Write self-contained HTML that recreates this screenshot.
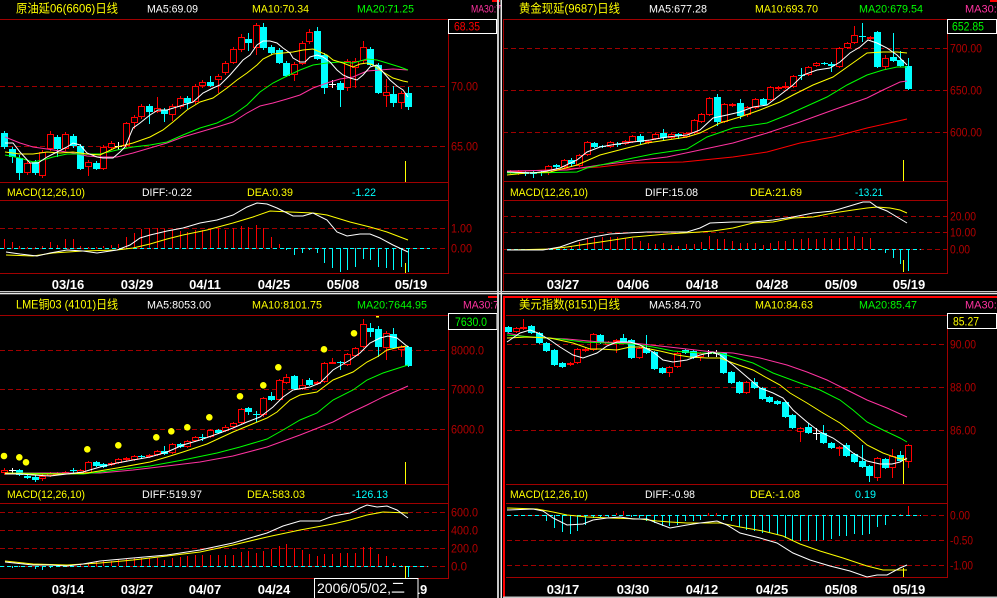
<!DOCTYPE html>
<html><head><meta charset="utf-8"><style>
html,body{margin:0;padding:0;background:#000;width:997px;height:598px;overflow:hidden}
svg{display:block}
text{font-family:"Liberation Sans","Noto Sans CJK SC",sans-serif}
.g{stroke:#a00000;stroke-width:1;stroke-dasharray:5 3;fill:none}
.b{stroke:#a00000;stroke-width:1;fill:none}
.rw{stroke:#ff0000;stroke-width:1;fill:none}
.rc{stroke:#ff0000;stroke-width:1;fill:#000}
.cw{stroke:#00ffff;stroke-width:1;fill:none}
.cc{fill:#00ffff}
.ww{stroke:#fff;stroke-width:1;fill:none}
.l5{stroke:#fff;stroke-width:1;fill:none}
.l10{stroke:#ffff00;stroke-width:1;fill:none}
.l20{stroke:#00ff00;stroke-width:1;fill:none}
.l30{stroke:#ff33a0;stroke-width:1;fill:none}
.l60{stroke:#ff0000;stroke-width:1;fill:none}
.zc{stroke:#00ffff;stroke-width:1;stroke-dasharray:4 3;fill:none}
.cur{stroke:#ffff00;stroke-width:1}
.ax{fill:#b00000;font-size:12px}
.dt{fill:#fff;font-size:13px;font-weight:bold}
</style></head><body>
<svg width="997" height="598" viewBox="0 0 997 598" xmlns="http://www.w3.org/2000/svg">
<rect width="997" height="598" fill="#000"/>

<!-- ================= TOP-LEFT ================= -->
<path class="g" d="M0 86.5H448M0 146.5H448M0 228.5H448M0 248.5H448"/>
<path class="b" d="M0 19.5H448M0 182.5H448M0 200.5H448M0 273.5H448M448.5 19V274"/>
<path class="rw" d="M27.5 161V175M42.5 150V178M50.5 131V151M65.5 132V151M88.5 160V176M103.5 145V170M111.5 141V150M126.5 122V148M134.5 115V129M141.5 104V119M157.5 97V113M172.5 104V121M180.5 96V109M195.5 84V104M202.5 80V88M218.5 74V93M225.5 61V75M233.5 47V64M241.5 34V52M256.5 23V55M294.5 62V81M302.5 41V65M309.5 29V44M347.5 59V91M355.5 58V88M363.5 41V63M386.5 79V107M401.5 91V109"/>
<g class="rc">
<rect x="24.5" y="163.5" width="6" height="9"/><rect x="39.5" y="152.5" width="6" height="23"/><rect x="47.5" y="134.5" width="6" height="14"/><rect x="62.5" y="134.5" width="6" height="14"/><rect x="85.5" y="162.5" width="6" height="4"/><rect x="100.5" y="147.5" width="6" height="21"/><rect x="108.5" y="143.5" width="6" height="4"/><rect x="123.5" y="123.5" width="6" height="22"/><rect x="131.5" y="117.5" width="6" height="5"/><rect x="138.5" y="106.5" width="6" height="10"/><rect x="154.5" y="108.5" width="6" height="3"/><rect x="169.5" y="106.5" width="6" height="8"/><rect x="177.5" y="98.5" width="6" height="8"/><rect x="192.5" y="86.5" width="6" height="15"/><rect x="199.5" y="82.5" width="6" height="3"/><rect x="215.5" y="76.5" width="6" height="3"/><rect x="222.5" y="63.5" width="6" height="9"/><rect x="230.5" y="49.5" width="6" height="13"/><rect x="238.5" y="37.5" width="6" height="12"/><rect x="253.5" y="25.5" width="6" height="22"/><rect x="291.5" y="64.5" width="6" height="10"/><rect x="299.5" y="43.5" width="6" height="20"/><rect x="306.5" y="32.5" width="6" height="9"/><rect x="344.5" y="61.5" width="6" height="26"/><rect x="352.5" y="61.5" width="6" height="6"/><rect x="360.5" y="47.5" width="6" height="13"/><rect x="383.5" y="92.5" width="6" height="3"/><rect x="398.5" y="93.5" width="6" height="9"/>
</g>
<path class="cw" d="M4.5 131V149M12.5 147V163M19.5 155V180M35.5 160V175M57.5 135V157M73.5 134V148M80.5 144V170M96.5 161V170M149.5 104V124M164.5 108V122M187.5 96V109M210.5 76V87M248.5 33V51M263.5 23V50M271.5 45V55M279.5 48V64M286.5 61V77M317.5 27V60M324.5 53V94M340.5 81V107M370.5 47V66M378.5 63V94M393.5 86V107M408.5 87V110"/>
<g class="cc">
<rect x="1" y="133" width="7" height="14"/><rect x="9" y="149" width="7" height="8"/><rect x="16" y="158" width="7" height="15"/><rect x="32" y="162" width="7" height="11"/><rect x="54" y="137" width="7" height="12"/><rect x="70" y="136" width="7" height="10"/><rect x="77" y="146" width="7" height="23"/><rect x="93" y="163" width="7" height="6"/><rect x="146" y="106" width="7" height="6"/><rect x="161" y="110" width="7" height="4"/><rect x="184" y="98" width="7" height="5"/><rect x="207" y="82" width="7" height="4"/><rect x="245" y="39" width="7" height="4"/><rect x="260" y="27" width="7" height="21"/><rect x="268" y="47" width="7" height="6"/><rect x="276" y="50" width="7" height="13"/><rect x="283" y="63" width="7" height="13"/><rect x="314" y="31" width="7" height="28"/><rect x="321" y="55" width="7" height="33"/><rect x="337" y="83" width="7" height="7"/><rect x="367" y="49" width="7" height="16"/><rect x="375" y="65" width="7" height="28"/><rect x="390" y="94" width="7" height="9"/><rect x="405" y="93" width="7" height="14"/>
</g>
<path class="ww" d="M115 146.5H122M118.5 142V150M329 84.5H336M332.5 80V88"/>
<polyline class="l30" points="5,137 20,143 33,147 47,149 60,151 73,153 87,156 100,157 117,157 133,153 150,148 167,143 183,137 200,132 217,127 233,122 247,113 260,106 273,103 287,99 300,95 313,88 327,83 340,79 353,77 367,71 380,70 393,69 408,70"/>
<polyline class="l20" points="5,155 20,158 33,162 43,160 53,157 67,154 83,154 100,154 117,150 133,147 150,145 167,142 183,135 200,128 217,123 233,115 247,105 260,92 273,83 287,76 300,70 313,65 327,63 340,62 353,63 367,59 377,60 387,63 400,67 408,70"/>
<polyline class="l10" points="5,152 20,154 33,154 47,152 60,153 73,152 87,154 100,155 117,147 133,143 150,137 163,130 173,122 187,110 200,102 213,98 227,88 237,80 247,73 257,65 263,59 273,54 283,53 293,52 303,50 313,49 320,52 327,55 333,60 343,63 353,67 360,64 367,63 373,65 383,72 393,78 403,81 408,82"/>
<polyline class="l5" points="5,143 13,143 20,152 30,163 38,163 47,157 57,152 67,147 73,143 80,145 87,153 97,157 103,158 113,158 120,152 125,147 133,128 140,123 150,115 158,110 167,110 180,106 193,102 203,93 213,88 220,85 230,75 237,67 243,60 250,55 257,45 263,41 270,41 277,43 283,48 290,53 293,58 300,62 305,62 310,57 317,55 323,57 330,62 337,70 343,75 350,78 357,80 363,75 370,67 377,65 383,72 390,80 397,86 403,90 408,97"/>
<path class="cur" d="M405.5 161V182M405.5 263V273"/>
<!-- MACD TL -->
<path class="rw" d="M4.5 248V239M12.5 248V242M19.5 248V246M27.5 248V247M35.5 248V247M42.5 248V246M50.5 248V242M57.5 248V245M65.5 248V239M73.5 248V239M80.5 248V246M88.5 248V247M96.5 248V247M103.5 248V246M111.5 248V245M118.5 248V244M126.5 248V237M134.5 248V233M141.5 248V229M149.5 248V228M157.5 248V228M164.5 248V229M172.5 248V230M180.5 248V231M187.5 248V232M195.5 248V230M202.5 248V230M210.5 248V229M218.5 248V228M225.5 248V230M233.5 248V228M241.5 248V226M248.5 248V227M256.5 248V225M263.5 248V228M271.5 248V237M279.5 248V244"/>
<path class="cw" d="M286.5 248V250M294.5 248V255M302.5 248V253M309.5 248V250M317.5 248V253M324.5 248V263M332.5 248V268M340.5 248V272M347.5 248V270M355.5 248V267M363.5 248V259M370.5 248V260M378.5 248V267M386.5 248V268M393.5 248V270M401.5 248V267M408.5 248V272"/>
<path class="zc" d="M0 248.5H430"/>
<polyline class="l10" points="6,255 33,256 53,253 83,251 117,250 133,248 150,244 167,239 183,235 207,230 233,223 253,217 270,211 290,212 313,213 327,215 350,222 370,227 387,232 408,240"/>
<polyline class="l5" points="6,252 20,254 37,256 50,253 67,250 83,251 97,253 117,250 130,245 140,238 150,235 167,231 183,228 200,223 217,220 233,215 247,207 257,203 267,204 277,208 293,216 303,216 313,213 327,220 337,232 347,236 360,234 370,234 380,238 393,245 408,252"/>
<text class="ax" x="451" y="90.5" textLength="27" lengthAdjust="spacingAndGlyphs">70.00</text>
<text class="ax" x="451" y="150.5" textLength="27" lengthAdjust="spacingAndGlyphs">65.00</text>
<text class="ax" x="451" y="232.5" textLength="21" lengthAdjust="spacingAndGlyphs">1.00</text>
<text class="ax" x="451" y="252.5" textLength="21" lengthAdjust="spacingAndGlyphs">0.00</text>
<rect x="448.5" y="19.5" width="48" height="14" fill="#000" stroke="#fff" stroke-width="1"/>
<text x="454" y="30.5" font-size="12" fill="#ff0000" textLength="26" lengthAdjust="spacingAndGlyphs">68.35</text>
<text x="16" y="12.5" font-size="12" fill="#ffff00" textLength="102" lengthAdjust="spacingAndGlyphs">原油延06(6606)日线</text>
<text x="147" y="12.5" font-size="11" fill="#fff" textLength="51" lengthAdjust="spacingAndGlyphs">MA5:69.09</text>
<text x="252" y="12.5" font-size="11" fill="#ffff00" textLength="57" lengthAdjust="spacingAndGlyphs">MA10:70.34</text>
<text x="357" y="12.5" font-size="11" fill="#00ff00" textLength="57" lengthAdjust="spacingAndGlyphs">MA20:71.25</text>
<text x="471" y="12.5" font-size="11" fill="#ff33a0" textLength="30" lengthAdjust="spacingAndGlyphs">MA30:7</text>
<text x="7" y="196" font-size="11" fill="#ffff00" textLength="78" lengthAdjust="spacingAndGlyphs">MACD(12,26,10)</text>
<text x="142" y="196" font-size="11" fill="#fff" textLength="50" lengthAdjust="spacingAndGlyphs">DIFF:-0.22</text>
<text x="247" y="196" font-size="11" fill="#ffff00" textLength="46" lengthAdjust="spacingAndGlyphs">DEA:0.39</text>
<text x="352" y="196" font-size="11" fill="#00ffff" textLength="24" lengthAdjust="spacingAndGlyphs">-1.22</text>
<g class="dt" text-anchor="middle">
<text x="68" y="289">03/16</text><text x="137" y="289">03/29</text><text x="205" y="289">04/11</text><text x="274" y="289">04/25</text><text x="343" y="289">05/08</text><text x="411" y="289">05/19</text>
</g>
<rect x="492" y="0" width="8" height="2" fill="#ff0000"/>

<!-- ================= TOP-RIGHT ================= -->
<path class="g" d="M503 48.5H947M503 90.5H947M503 132.5H947M503 216.5H947M503 232.5H947M503 249.5H947"/>
<path class="b" d="M503 19.5H947M503 181.5H947M503 200.5H947M503 273.5H947M947.5 19V274M503.5 19V291"/>
<path class="rw" d="M510.5 170V174M518.5 170V175M548.5 165V175M564.5 159V169M579.5 154V167M587.5 141V156M610.5 141V148M625.5 140V145M632.5 135V143M648.5 140V144M655.5 133V140M671.5 133V139M686.5 132V138M694.5 119V134M701.5 113V123M709.5 97V116M724.5 103V123M732.5 103V107M747.5 106V117M755.5 98V109M770.5 86V101M778.5 86V90M785.5 82V89M793.5 75V88M808.5 66V76M816.5 62V67M839.5 47V68M847.5 42V49M854.5 26V44M870.5 36V40M885.5 55V70"/>
<g class="rc">
<rect x="507.5" y="171.5" width="6" height="1"/><rect x="515.5" y="171.5" width="6" height="2"/><rect x="545.5" y="166.5" width="6" height="6"/><rect x="561.5" y="160.5" width="6" height="6"/><rect x="576.5" y="155.5" width="6" height="10"/><rect x="584.5" y="142.5" width="6" height="12"/><rect x="607.5" y="142.5" width="6" height="4"/><rect x="622.5" y="141.5" width="6" height="2"/><rect x="629.5" y="136.5" width="6" height="5"/><rect x="645.5" y="141.5" width="6" height="1"/><rect x="652.5" y="134.5" width="6" height="4"/><rect x="668.5" y="134.5" width="6" height="3"/><rect x="683.5" y="133.5" width="6" height="3"/><rect x="691.5" y="120.5" width="6" height="12"/><rect x="698.5" y="114.5" width="6" height="7"/><rect x="706.5" y="98.5" width="6" height="16"/><rect x="721.5" y="104.5" width="6" height="17"/><rect x="729.5" y="104.5" width="6" height="1"/><rect x="744.5" y="107.5" width="6" height="7"/><rect x="752.5" y="99.5" width="6" height="8"/><rect x="767.5" y="87.5" width="6" height="12"/><rect x="775.5" y="87.5" width="6" height="1"/><rect x="782.5" y="86.5" width="6" height="1"/><rect x="790.5" y="76.5" width="6" height="10"/><rect x="805.5" y="67.5" width="6" height="7"/><rect x="813.5" y="63.5" width="6" height="2"/><rect x="836.5" y="48.5" width="6" height="18"/><rect x="844.5" y="43.5" width="6" height="4"/><rect x="851.5" y="35.5" width="6" height="7"/><rect x="867.5" y="37.5" width="6" height="1"/><rect x="882.5" y="58.5" width="6" height="8"/>
</g>
<path class="cw" d="M525.5 171V176M533.5 171V178M541.5 170V176M556.5 164V169M571.5 158V166M594.5 142V148M602.5 145V148M640.5 134V145M663.5 129V140M678.5 133V139M717.5 94V126M740.5 99V119M763.5 98V106M824.5 62V65M831.5 62V72M877.5 31V68M893.5 33V62M900.5 51V67M908.5 58V90M614 144.5H621M617.5 142V147M798 75.5H805M801.5 68V80M859 36.5H866M862.5 23V42"/>
<g class="cc">
<rect x="522" y="172" width="7" height="2"/><rect x="530" y="172" width="7" height="2"/><rect x="538" y="172" width="7" height="1"/><rect x="553" y="165" width="7" height="2"/><rect x="568" y="160" width="7" height="4"/><rect x="591" y="143" width="7" height="4"/><rect x="599" y="146" width="7" height="1"/><rect x="637" y="136" width="7" height="6"/><rect x="660" y="133" width="7" height="5"/><rect x="675" y="134" width="7" height="2"/><rect x="714" y="97" width="7" height="25"/><rect x="737" y="103" width="7" height="13"/><rect x="760" y="99" width="7" height="6"/><rect x="821" y="63" width="7" height="1"/><rect x="828" y="64" width="7" height="2"/><rect x="874" y="32" width="7" height="35"/><rect x="890" y="57" width="7" height="4"/><rect x="897" y="60" width="7" height="6"/><rect x="905" y="66" width="7" height="23"/>
</g>
<polyline class="l60" points="507,172 600,167 633,163 683,162 733,157 767,152 800,143 833,137 867,128 907,119"/>
<polyline class="l30" points="507,171 567,170 600,165 633,161 667,157 700,150 733,143 767,133 800,122 833,110 867,98 883,90 900,82 907,81"/>
<polyline class="l20" points="507,173 533,173 577,172 587,168 610,163 633,158 653,154 687,149 707,137 733,128 767,123 787,115 807,106 827,97 847,85 867,75 883,70 897,67 907,67"/>
<polyline class="l10" points="507,175 527,173 550,172 577,165 600,155 627,148 647,143 667,140 687,137 700,133 720,123 740,117 760,110 780,102 793,95 813,85 833,77 850,65 867,53 883,52 897,52 907,53"/>
<polyline class="l5" points="507,172 533,173 547,171 560,168 577,160 587,152 600,147 617,144 633,142 650,140 667,137 687,135 700,130 713,118 727,115 740,112 753,107 767,105 780,95 793,85 803,75 817,70 830,68 840,62 850,53 860,47 868,40 877,43 887,48 897,55 907,65"/>
<path class="cur" d="M903.5 160V181M903.5 260V272"/>
<path class="rw" d="M548.5 249V248M564.5 249V248M571.5 249V246M579.5 249V242M587.5 249V238M594.5 249V238M602.5 249V237M610.5 249V237M617.5 249V237M625.5 249V238M632.5 249V238M640.5 249V241M648.5 249V243M655.5 249V244M663.5 249V243M671.5 249V245M678.5 249V246M686.5 249V244M694.5 249V244M701.5 249V242M709.5 249V236M717.5 249V239M724.5 249V239M732.5 249V241M740.5 249V243M747.5 249V243M755.5 249V243M763.5 249V245M770.5 249V243M778.5 249V241M785.5 249V241M793.5 249V239M801.5 249V239M808.5 249V238M816.5 249V239M824.5 249V238M831.5 249V239M839.5 249V238M847.5 249V237M854.5 249V236M862.5 249V237M870.5 249V238"/>
<path class="cw" d="M885.5 249V253M893.5 249V258M900.5 249V264M908.5 249V271"/>
<path class="zc" d="M507 249.5H921"/>
<polyline class="l10" points="507,250 550,249 567,247 587,244 607,241 633,237 667,234 700,232 713,231 733,228 753,223 773,222 793,218 813,217 833,213 853,210 867,208 877,207 890,208 900,210 907,213"/>
<polyline class="l5" points="507,250 543,250 560,247 577,241 593,237 610,234 627,233 647,232 667,232 687,232 700,228 710,223 733,222 753,222 773,220 793,217 813,213 833,211 853,205 863,202 870,202 877,207 887,211 897,217 907,223"/>
<text class="ax" x="950" y="52.5" textLength="32" lengthAdjust="spacingAndGlyphs">700.00</text>
<text class="ax" x="950" y="94.5" textLength="32" lengthAdjust="spacingAndGlyphs">650.00</text>
<text class="ax" x="950" y="136.5" textLength="32" lengthAdjust="spacingAndGlyphs">600.00</text>
<text class="ax" x="950" y="220.5" textLength="26" lengthAdjust="spacingAndGlyphs">20.00</text>
<text class="ax" x="950" y="236.5" textLength="26" lengthAdjust="spacingAndGlyphs">10.00</text>
<text class="ax" x="950" y="253.5" textLength="20" lengthAdjust="spacingAndGlyphs">0.00</text>
<rect x="947.5" y="19.5" width="49" height="14" fill="#000" stroke="#fff" stroke-width="1"/>
<text x="952" y="30.5" font-size="12" fill="#00ff00" textLength="32" lengthAdjust="spacingAndGlyphs">652.85</text>
<text x="519" y="12.5" font-size="12" fill="#ffff00" textLength="101" lengthAdjust="spacingAndGlyphs">黄金现延(9687)日线</text>
<text x="649" y="12.5" font-size="11" fill="#fff" textLength="58" lengthAdjust="spacingAndGlyphs">MA5:677.28</text>
<text x="755" y="12.5" font-size="11" fill="#ffff00" textLength="63" lengthAdjust="spacingAndGlyphs">MA10:693.70</text>
<text x="859" y="12.5" font-size="11" fill="#00ff00" textLength="64" lengthAdjust="spacingAndGlyphs">MA20:679.54</text>
<text x="965" y="12.5" font-size="11" fill="#ff33a0" textLength="38" lengthAdjust="spacingAndGlyphs">MA30:6</text>
<text x="510" y="196" font-size="11" fill="#ffff00" textLength="78" lengthAdjust="spacingAndGlyphs">MACD(12,26,10)</text>
<text x="645" y="196" font-size="11" fill="#fff" textLength="53" lengthAdjust="spacingAndGlyphs">DIFF:15.08</text>
<text x="750" y="196" font-size="11" fill="#ffff00" textLength="52" lengthAdjust="spacingAndGlyphs">DEA:21.69</text>
<text x="855" y="196" font-size="11" fill="#00ffff" textLength="28" lengthAdjust="spacingAndGlyphs">-13.21</text>
<g class="dt" text-anchor="middle">
<text x="563" y="289">03/27</text><text x="633" y="289">04/06</text><text x="702" y="289">04/18</text><text x="772" y="289">04/28</text><text x="841" y="289">05/09</text><text x="909" y="289">05/19</text>
</g>
<rect x="990" y="0" width="7" height="2" fill="#ff0000"/>

<!-- ================= BOTTOM-LEFT ================= -->
<path class="g" d="M0 350.5H448M0 389.5H448M0 429.5H448M0 512.5H448M0 530.5H448M0 548.5H448M0 566.5H448"/>
<path class="b" d="M0 315.5H448M0 484.5H448M0 503.5H448M0 578.5H448M448.5 315V579"/>
<path class="rw" d="M4.5 468V475M42.5 474V481M50.5 472V477M57.5 472V475M65.5 471V474M80.5 469V474M88.5 461V474M111.5 462V466M118.5 458V464M126.5 457V461M134.5 455V461M149.5 454V458M157.5 450V456M172.5 443V454M187.5 440V448M195.5 436V442M210.5 429V438M225.5 425V432M233.5 422V428M241.5 408V424M263.5 397V417M279.5 379V401M286.5 374V384M302.5 379V390M317.5 381V385M324.5 362V383M332.5 358V364M347.5 353V366M355.5 347V357M363.5 319V348M386.5 331V360M401.5 345V357"/>
<g class="rc">
<rect x="1.5" y="470.5" width="6" height="2"/><rect x="39.5" y="476.5" width="6" height="2"/><rect x="47.5" y="473.5" width="6" height="2"/><rect x="54.5" y="473.5" width="6" height="1"/><rect x="62.5" y="472.5" width="6" height="1"/><rect x="77.5" y="470.5" width="6" height="2"/><rect x="85.5" y="462.5" width="6" height="10"/><rect x="108.5" y="463.5" width="6" height="1"/><rect x="115.5" y="459.5" width="6" height="3"/><rect x="123.5" y="458.5" width="6" height="1"/><rect x="131.5" y="456.5" width="6" height="3"/><rect x="146.5" y="455.5" width="6" height="1"/><rect x="154.5" y="451.5" width="6" height="3"/><rect x="169.5" y="444.5" width="6" height="8"/><rect x="184.5" y="441.5" width="6" height="5"/><rect x="192.5" y="437.5" width="6" height="3"/><rect x="207.5" y="430.5" width="6" height="6"/><rect x="222.5" y="427.5" width="6" height="3"/><rect x="230.5" y="423.5" width="6" height="3"/><rect x="238.5" y="409.5" width="6" height="13"/><rect x="260.5" y="398.5" width="6" height="16"/><rect x="276.5" y="380.5" width="6" height="19"/><rect x="283.5" y="377.5" width="6" height="5"/><rect x="299.5" y="385.5" width="6" height="3"/><rect x="314.5" y="382.5" width="6" height="1"/><rect x="321.5" y="363.5" width="6" height="18"/><rect x="329.5" y="362.5" width="6" height="1"/><rect x="344.5" y="354.5" width="6" height="10"/><rect x="352.5" y="348.5" width="6" height="7"/><rect x="360.5" y="324.5" width="6" height="22"/><rect x="383.5" y="333.5" width="6" height="14"/><rect x="398.5" y="347.5" width="6" height="2"/>
</g>
<path class="cw" d="M19.5 469V476M27.5 475V479M35.5 475V482M96.5 461V467M103.5 463V468M141.5 455V458M164.5 446V455M180.5 443V448M218.5 429V434M248.5 407V415M271.5 392V401M294.5 375V390M309.5 378V386M340.5 361V370M370.5 323V337M378.5 326V357M393.5 328V349M408.5 346V367M70 470.5H77M73.5 468V473M199 437.5H206M202.5 434V441M253 414.5H260M256.5 411V422"/>
<path class="ww" d="M9 470.5H16M12.5 468V473"/>
<g class="cc">
<rect x="16" y="470" width="7" height="5"/><rect x="24" y="476" width="7" height="2"/><rect x="32" y="477" width="7" height="3"/><rect x="93" y="462" width="7" height="4"/><rect x="100" y="464" width="7" height="3"/><rect x="138" y="456" width="7" height="1"/><rect x="161" y="451" width="7" height="3"/><rect x="177" y="444" width="7" height="3"/><rect x="215" y="430" width="7" height="3"/><rect x="245" y="408" width="7" height="4"/><rect x="268" y="396" width="7" height="4"/><rect x="291" y="376" width="7" height="13"/><rect x="306" y="380" width="7" height="5"/><rect x="337" y="362" width="7" height="1"/><rect x="367" y="328" width="7" height="4"/><rect x="375" y="329" width="7" height="18"/><rect x="390" y="334" width="7" height="14"/><rect x="405" y="347" width="7" height="19"/>
</g>
<g fill="#ffff00">
<circle cx="4" cy="456" r="3.3"/><circle cx="19.3" cy="457.3" r="3.3"/><circle cx="26" cy="462.3" r="3.3"/><circle cx="87.3" cy="449.3" r="3.3"/><circle cx="118.3" cy="445.3" r="3.3"/><circle cx="156.3" cy="437.3" r="3.3"/><circle cx="171.3" cy="431.3" r="3.3"/><circle cx="187.3" cy="427.3" r="3.3"/><circle cx="209.3" cy="417.3" r="3.3"/><circle cx="240" cy="396.3" r="3.3"/><circle cx="263.3" cy="385.3" r="3.3"/><circle cx="278.3" cy="367.3" r="3.3"/><circle cx="324" cy="349.3" r="3.3"/><circle cx="354" cy="333.3" r="3.3"/><rect x="376" y="316" width="3" height="1.5"/>
</g>
<polyline class="l30" points="5,473 67,473 100,473 133,470 167,466 200,462 233,456 267,447 300,435 333,422 350,413 367,405 383,397 408,386"/>
<polyline class="l20" points="5,473 83,474 100,472 117,470 150,466 183,460 217,453 240,447 267,439 283,430 300,420 317,413 333,400 353,390 367,380 383,373 408,365"/>
<polyline class="l10" points="5,473 33,474 67,474 87,473 117,468 150,462 167,457 183,452 207,444 233,432 250,425 267,418 277,412 290,400 300,395 317,392 333,380 353,372 367,362 377,357 387,350 400,347 408,346"/>
<polyline class="l5" points="5,474 20,474 33,475 50,476 67,474 83,472 100,467 117,463 133,460 150,457 167,452 183,445 200,440 217,434 233,428 247,422 260,417 273,407 283,397 293,390 310,387 320,383 333,370 350,360 360,353 370,343 380,338 388,336 397,338 408,347"/>
<path class="cur" d="M405.5 462V484M405.5 566V578"/>
<path class="cw" d="M12.5 566V568M19.5 566V567M35.5 566V569M42.5 566V570M50.5 566V568M408.5 566V577"/>
<path class="rw" d="M80.5 566V564M88.5 566V563M96.5 566V561M103.5 566V561M111.5 566V561M118.5 566V559M126.5 566V559M134.5 566V558M141.5 566V558M149.5 566V558M157.5 566V558M164.5 566V560M172.5 566V558M180.5 566V557M187.5 566V556M195.5 566V555M202.5 566V555M210.5 566V555M218.5 566V555M225.5 566V555M233.5 566V555M241.5 566V552M248.5 566V551M256.5 566V553M263.5 566V551M271.5 566V549M279.5 566V546M286.5 566V544M294.5 566V548M302.5 566V550M309.5 566V554M317.5 566V556M324.5 566V554M332.5 566V554M340.5 566V553M347.5 566V553M355.5 566V553M363.5 566V547M370.5 566V547M378.5 566V554M386.5 566V556M393.5 566V563M401.5 566V565"/>
<path class="zc" d="M0 566.5H428"/>
<polyline class="l10" points="5,561 33,564 67,565 100,563 133,560 167,556 200,552 233,545 267,537 300,530 333,524 350,520 367,515 383,512 408,513"/>
<polyline class="l5" points="5,562 33,565 50,565 67,566 83,564 100,561 133,558 167,555 200,550 233,543 250,538 267,533 283,526 300,521 320,521 333,516 350,513 360,508 367,505 377,507 387,506 397,510 408,518"/>
<text class="ax" x="451" y="354.5" textLength="33" lengthAdjust="spacingAndGlyphs">8000.0</text>
<text class="ax" x="451" y="393.5" textLength="33" lengthAdjust="spacingAndGlyphs">7000.0</text>
<text class="ax" x="451" y="433.5" textLength="33" lengthAdjust="spacingAndGlyphs">6000.0</text>
<text class="ax" x="451" y="516.5" textLength="27" lengthAdjust="spacingAndGlyphs">600.0</text>
<text class="ax" x="451" y="534.5" textLength="27" lengthAdjust="spacingAndGlyphs">400.0</text>
<text class="ax" x="451" y="552.5" textLength="27" lengthAdjust="spacingAndGlyphs">200.0</text>
<text class="ax" x="451" y="570.5" textLength="16" lengthAdjust="spacingAndGlyphs">0.0</text>
<rect x="448.5" y="313.5" width="48.5" height="16" fill="#000" stroke="#fff" stroke-width="1"/>
<text x="455" y="326" font-size="12" fill="#00ff00" textLength="32" lengthAdjust="spacingAndGlyphs">7630.0</text>
<text x="16" y="308.5" font-size="12" fill="#ffff00" textLength="102" lengthAdjust="spacingAndGlyphs">LME铜03 (4101)日线</text>
<text x="147" y="308.5" font-size="11" fill="#fff" textLength="64" lengthAdjust="spacingAndGlyphs">MA5:8053.00</text>
<text x="252" y="308.5" font-size="11" fill="#ffff00" textLength="70" lengthAdjust="spacingAndGlyphs">MA10:8101.75</text>
<text x="357" y="308.5" font-size="11" fill="#00ff00" textLength="70" lengthAdjust="spacingAndGlyphs">MA20:7644.95</text>
<text x="463" y="308.5" font-size="11" fill="#ff33a0" textLength="36" lengthAdjust="spacingAndGlyphs">MA30:7</text>
<text x="7" y="498" font-size="11" fill="#ffff00" textLength="78" lengthAdjust="spacingAndGlyphs">MACD(12,26,10)</text>
<text x="142" y="498" font-size="11" fill="#fff" textLength="60" lengthAdjust="spacingAndGlyphs">DIFF:519.97</text>
<text x="247" y="498" font-size="11" fill="#ffff00" textLength="58" lengthAdjust="spacingAndGlyphs">DEA:583.03</text>
<text x="352" y="498" font-size="11" fill="#00ffff" textLength="36" lengthAdjust="spacingAndGlyphs">-126.13</text>
<g class="dt" text-anchor="middle">
<text x="68" y="594">03/14</text><text x="137" y="594">03/27</text><text x="205" y="594">04/07</text><text x="274" y="594">04/24</text><text x="411" y="594">05/19</text>
</g>
<rect x="314.5" y="578.5" width="103.5" height="20" fill="#000" stroke="#fff" stroke-width="1"/>
<text x="317" y="593" font-size="14" fill="#fff" textLength="88" lengthAdjust="spacingAndGlyphs">2006/05/02,二</text>
<rect x="488" y="296" width="10" height="2" fill="#ff0000"/>

<!-- ================= BOTTOM-RIGHT ================= -->
<path class="g" d="M507 344.5H947M507 387.5H947M507 430.5H947M507 515.5H947M507 540.5H947M507 565.5H947"/>
<path class="b" d="M506 315.5H947M506 484.5H947M506 503.5H947M506 577.5H947M947.5 315V578"/>
<path class="rw" d="M516.5 327V333M523.5 319V330M570.5 362V366M577.5 348V364M585.5 348V352M593.5 333V351M608.5 341V346M616.5 339V353M639.5 347V359M669.5 366V377M677.5 352V368M700.5 352V361M746.5 381V394M800.5 427V442M839.5 446V456M877.5 457V481M892.5 449V478M908.5 444V468"/>
<g class="rc">
<rect x="513.5" y="328.5" width="6" height="3"/><rect x="520.5" y="327.5" width="6" height="1"/><rect x="567.5" y="363.5" width="6" height="1"/><rect x="574.5" y="349.5" width="6" height="13"/><rect x="582.5" y="349.5" width="6" height="1"/><rect x="590.5" y="334.5" width="6" height="15"/><rect x="605.5" y="342.5" width="6" height="2"/><rect x="613.5" y="340.5" width="6" height="1"/><rect x="636.5" y="348.5" width="6" height="9"/><rect x="666.5" y="367.5" width="6" height="5"/><rect x="674.5" y="353.5" width="6" height="13"/><rect x="697.5" y="353.5" width="6" height="3"/><rect x="743.5" y="382.5" width="6" height="10"/><rect x="797.5" y="428.5" width="6" height="3"/><rect x="836.5" y="447.5" width="6" height="1"/><rect x="874.5" y="458.5" width="6" height="19"/><rect x="889.5" y="456.5" width="6" height="11"/><rect x="905.5" y="445.5" width="6" height="16"/>
</g>
<path class="cw" d="M508.5 326V333M531.5 325V334M539.5 332V344M546.5 342V352M554.5 349V366M562.5 362V368M600.5 334V344M623.5 334V343M631.5 339V359M646.5 335V354M654.5 351V370M662.5 367V374M685.5 349V354M693.5 350V359M723.5 352V374M731.5 371V384M739.5 381V394M754.5 378V389M762.5 387V400M769.5 396V403M777.5 400V405M785.5 401V418M792.5 414V429M808.5 423V434M823.5 425V444M831.5 442V449M846.5 443V457M854.5 453V463M862.5 445V468M869.5 465V482M885.5 458V469M900.5 451V462"/>
<g class="cc">
<rect x="505" y="327" width="7" height="5"/><rect x="528" y="326" width="7" height="7"/><rect x="536" y="333" width="7" height="10"/><rect x="543" y="343" width="7" height="8"/><rect x="551" y="350" width="7" height="15"/><rect x="559" y="363" width="7" height="4"/><rect x="597" y="335" width="7" height="8"/><rect x="620" y="338" width="7" height="4"/><rect x="628" y="340" width="7" height="18"/><rect x="643" y="348" width="7" height="5"/><rect x="651" y="352" width="7" height="17"/><rect x="659" y="368" width="7" height="5"/><rect x="682" y="350" width="7" height="3"/><rect x="690" y="351" width="7" height="7"/><rect x="720" y="353" width="7" height="20"/><rect x="728" y="372" width="7" height="11"/><rect x="736" y="382" width="7" height="11"/><rect x="751" y="382" width="7" height="6"/><rect x="759" y="388" width="7" height="11"/><rect x="766" y="397" width="7" height="5"/><rect x="774" y="401" width="7" height="3"/><rect x="782" y="402" width="7" height="15"/><rect x="789" y="415" width="7" height="13"/><rect x="805" y="427" width="7" height="6"/><rect x="820" y="433" width="7" height="10"/><rect x="828" y="443" width="7" height="5"/><rect x="843" y="445" width="7" height="11"/><rect x="851" y="454" width="7" height="8"/><rect x="859" y="461" width="7" height="6"/><rect x="866" y="466" width="7" height="10"/><rect x="882" y="459" width="7" height="9"/><rect x="897" y="455" width="7" height="6"/>
</g>
<path class="ww" d="M705 353.5H712M708.5 350V357M713 353.5H720M716.5 350V357M813 433.5H820M816.5 428V440"/>
<polyline class="l30" points="507,333 527,337 567,339 600,342 633,343 660,346 687,349 713,352 733,353 760,358 787,365 807,372 827,380 847,390 867,400 887,408 907,417"/>
<polyline class="l20" points="507,335 533,337 560,339 583,342 607,343 633,344 653,347 673,351 700,353 720,353 733,357 753,363 773,373 800,383 820,390 840,400 853,410 867,422 883,430 900,438 907,442"/>
<polyline class="l10" points="507,338 527,337 550,338 573,343 590,349 600,349 617,350 630,347 640,347 660,351 677,355 690,357 707,358 720,358 733,363 753,370 767,378 780,385 790,393 807,403 823,413 840,423 853,433 867,445 883,453 897,458 907,460"/>
<polyline class="l5" points="507,342 520,333 530,330 538,333 550,340 560,347 573,355 583,358 597,353 607,346 617,342 630,342 640,345 653,352 663,360 673,362 687,360 700,355 713,352 720,355 733,365 747,377 760,388 773,393 783,398 793,410 807,422 820,432 833,438 843,445 853,453 867,461 880,464 892,464 900,462 907,458"/>
<path class="cur" d="M903.5 457V484M903.5 568V577"/>
<path class="cw" d="M546.5 515V521M554.5 515V528M562.5 515V532M570.5 515V534M577.5 515V531M585.5 515V525M593.5 515V518M600.5 515V517M608.5 515V517M631.5 515V517M639.5 515V518M646.5 515V521M654.5 515V523M662.5 515V526M669.5 515V526M677.5 515V525M685.5 515V521M693.5 515V521M700.5 515V520M723.5 515V520M731.5 515V521M739.5 515V527M746.5 515V530M754.5 515V531M762.5 515V533M769.5 515V533M777.5 515V535M785.5 515V538M792.5 515V541M800.5 515V541M808.5 515V541M816.5 515V541M823.5 515V540M831.5 515V539M839.5 515V536M846.5 515V536M854.5 515V534M862.5 515V535M869.5 515V534M877.5 515V527M885.5 515V525M892.5 515V516"/>
<path class="rw" d="M616.5 515V513M623.5 515V511M708.5 515V513M716.5 515V513M900.5 515V514M908.5 515V506"/>
<path class="zc" d="M507 515.5H921"/>
<polyline class="l10" points="507,508 537,509 553,512 567,515 587,517 610,518 640,519 657,521 670,522 687,523 720,523 740,527 763,531 783,536 800,544 820,551 843,558 867,566 883,570 907,570"/>
<polyline class="l5" points="507,510 533,509 543,511 553,518 567,525 583,524 593,520 607,518 620,517 633,519 647,519 657,523 670,528 687,525 700,523 717,521 727,525 740,533 760,538 777,543 793,553 810,560 830,566 850,571 867,577 877,575 887,575 900,568 907,565"/>
<text class="ax" x="950" y="348.5" textLength="26" lengthAdjust="spacingAndGlyphs">90.00</text>
<text class="ax" x="950" y="391.5" textLength="26" lengthAdjust="spacingAndGlyphs">88.00</text>
<text class="ax" x="950" y="434.5" textLength="26" lengthAdjust="spacingAndGlyphs">86.00</text>
<text class="ax" x="950" y="519.5" textLength="20" lengthAdjust="spacingAndGlyphs">0.00</text>
<text class="ax" x="950" y="544.5" textLength="23" lengthAdjust="spacingAndGlyphs">-0.50</text>
<text class="ax" x="950" y="569.5" textLength="23" lengthAdjust="spacingAndGlyphs">-1.00</text>
<rect x="947.5" y="313.5" width="49" height="15" fill="#000" stroke="#fff" stroke-width="1"/>
<text x="953" y="325.5" font-size="12" fill="#ffff00" textLength="26" lengthAdjust="spacingAndGlyphs">85.27</text>
<text x="519" y="308.5" font-size="12" fill="#ffff00" textLength="101" lengthAdjust="spacingAndGlyphs">美元指数(8151)日线</text>
<text x="649" y="308.5" font-size="11" fill="#fff" textLength="52" lengthAdjust="spacingAndGlyphs">MA5:84.70</text>
<text x="755" y="308.5" font-size="11" fill="#ffff00" textLength="58" lengthAdjust="spacingAndGlyphs">MA10:84.63</text>
<text x="859" y="308.5" font-size="11" fill="#00ff00" textLength="58" lengthAdjust="spacingAndGlyphs">MA20:85.47</text>
<text x="965" y="308.5" font-size="11" fill="#ff33a0" textLength="38" lengthAdjust="spacingAndGlyphs">MA30:8</text>
<text x="510" y="498" font-size="11" fill="#ffff00" textLength="78" lengthAdjust="spacingAndGlyphs">MACD(12,26,10)</text>
<text x="645" y="498" font-size="11" fill="#fff" textLength="50" lengthAdjust="spacingAndGlyphs">DIFF:-0.98</text>
<text x="750" y="498" font-size="11" fill="#ffff00" textLength="50" lengthAdjust="spacingAndGlyphs">DEA:-1.08</text>
<text x="855" y="498" font-size="11" fill="#00ffff" textLength="21" lengthAdjust="spacingAndGlyphs">0.19</text>
<g class="dt" text-anchor="middle">
<text x="563" y="594">03/17</text><text x="633" y="594">03/30</text><text x="702" y="594">04/12</text><text x="772" y="594">04/25</text><text x="841" y="594">05/08</text><text x="909" y="594">05/19</text>
</g>

<!-- cover overflow of MA30 labels -->
<rect x="502" y="0" width="12" height="18" fill="#000"/>
<rect x="502" y="298" width="12" height="16" fill="#000"/>

<!-- active panel red frame -->
<path d="M503 297H997M504 297V598" stroke="#ff0000" stroke-width="2" fill="none"/>
<rect x="503" y="596.5" width="494" height="1.5" fill="#c8c8c8"/>

<!-- separators -->
<rect x="497" y="0" width="2" height="598" fill="#c8c8c8"/>
<rect x="500.5" y="0" width="1.5" height="598" fill="#e8e8e8"/>
<rect x="0" y="291" width="997" height="1.3" fill="#c8c8c8"/>
<rect x="0" y="293" width="997" height="1.3" fill="#e8e8e8"/>
</svg>
</body></html>
